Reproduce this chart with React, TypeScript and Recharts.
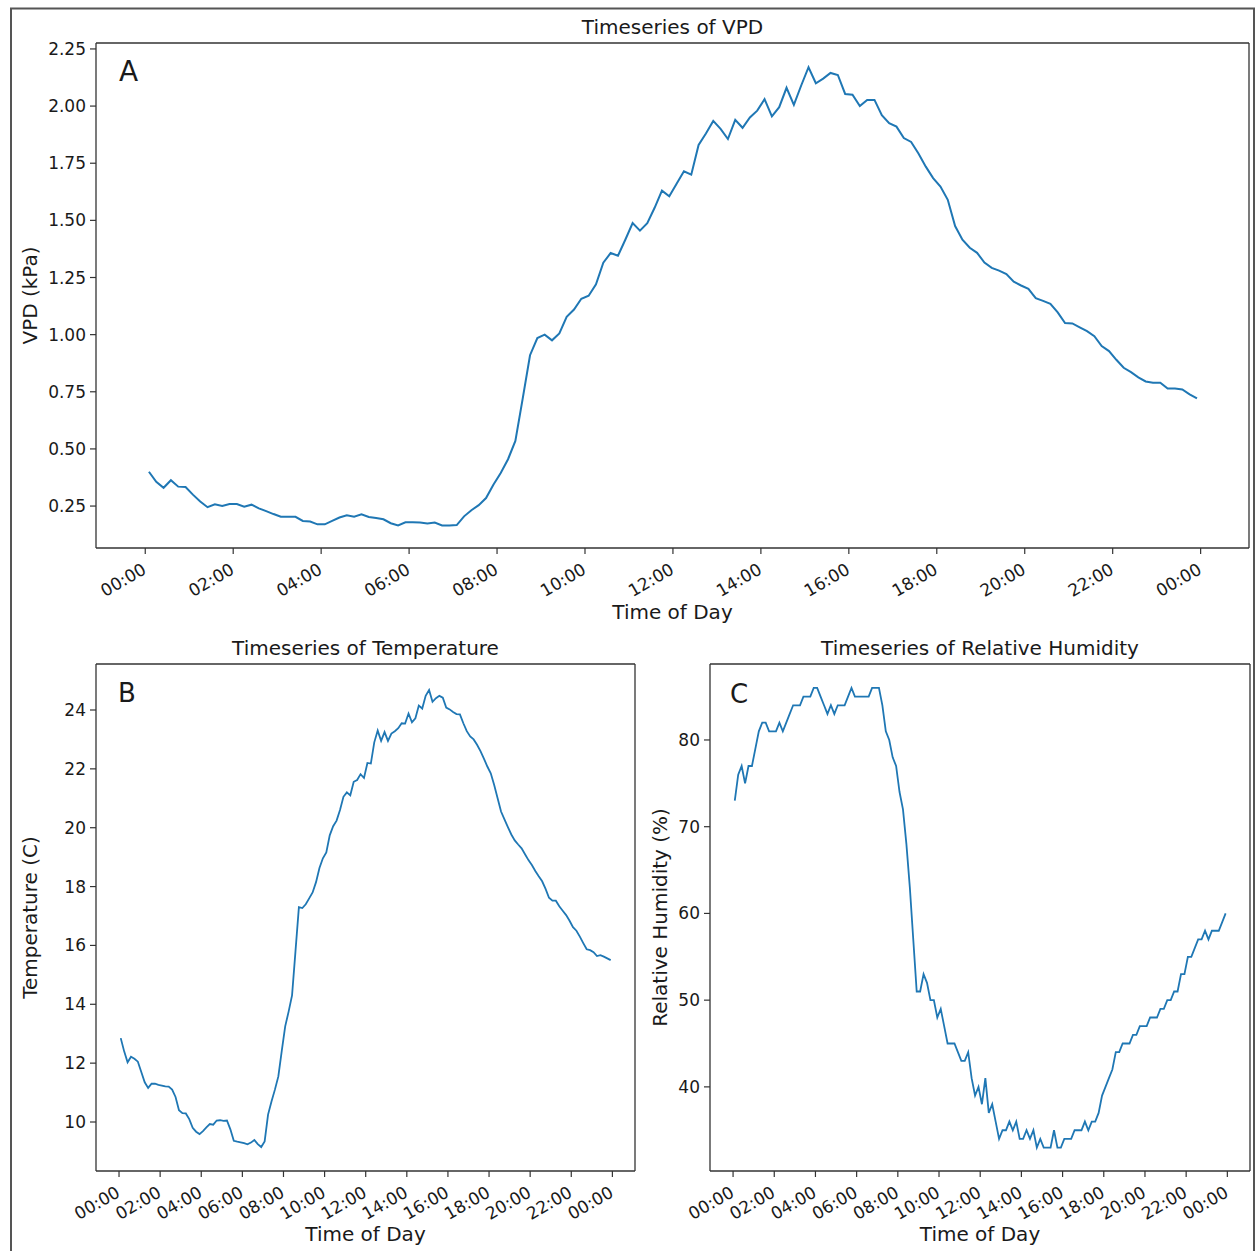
import { LineChart, Line, XAxis, YAxis, ReferenceLine } from 'recharts'

// logger samples: every 10 minutes starting at 00:05
const START_MIN = 5
const STEP_MIN = 10

const TICK_HOURS = [0, 2, 4, 6, 8, 10, 12, 14, 16, 18, 20, 22, 24]
const TICK_LABELS = ['00:00', '02:00', '04:00', '06:00', '08:00', '10:00', '12:00', '14:00', '16:00', '18:00', '20:00', '22:00', '00:00']

const VPD_TICKS = [0.25, 0.5, 0.75, 1.0, 1.25, 1.5, 1.75, 2.0, 2.25]
const TEMP_TICKS = [10, 12, 14, 16, 18, 20, 22, 24]
const RH_TICKS = [40, 50, 60, 70, 80]

const VPD = [
  0.40, 0.356, 0.33, 0.363, 0.335, 0.333, 0.30, 0.27, 0.245, 0.258, 0.25, 0.259,
  0.259, 0.247, 0.256, 0.24, 0.228, 0.215, 0.203, 0.203, 0.203, 0.185, 0.182, 0.17,
  0.17, 0.185, 0.20, 0.21, 0.203, 0.214, 0.202, 0.198, 0.192, 0.175, 0.165, 0.179,
  0.179, 0.178, 0.174, 0.178, 0.165, 0.165, 0.167, 0.205, 0.232, 0.254, 0.285, 0.343,
  0.395, 0.455, 0.535, 0.72, 0.91, 0.985, 1.0, 0.975, 1.005, 1.078, 1.11, 1.157,
  1.17, 1.22, 1.315, 1.357, 1.345, 1.415, 1.488, 1.455, 1.488, 1.555, 1.63, 1.605,
  1.66, 1.715, 1.70, 1.83, 1.88, 1.935, 1.90, 1.856, 1.94, 1.905, 1.95, 1.98,
  2.03, 1.955, 1.995, 2.08, 2.005, 2.09, 2.17, 2.10, 2.12, 2.145, 2.136, 2.053,
  2.05, 2.0, 2.027, 2.027, 1.96, 1.925, 1.91, 1.86, 1.843, 1.793, 1.735, 1.685,
  1.648, 1.59, 1.475, 1.415, 1.38, 1.358, 1.315, 1.292, 1.28, 1.265, 1.232, 1.215,
  1.20, 1.16, 1.148, 1.135, 1.097, 1.051, 1.049, 1.032, 1.015, 0.993, 0.95, 0.928,
  0.89, 0.855, 0.836, 0.813, 0.795, 0.79, 0.79, 0.764, 0.764, 0.76, 0.739, 0.721,
]

const TEMP = [
  12.85, 12.4, 12.03, 12.22, 12.15, 12.05, 11.7, 11.35, 11.16, 11.3, 11.3, 11.26,
  11.24, 11.21, 11.2, 11.1, 10.85, 10.4, 10.3, 10.29, 10.1, 9.8, 9.67, 9.59,
  9.69, 9.82, 9.93, 9.91, 10.05, 10.06, 10.04, 10.05, 9.75, 9.36, 9.33, 9.31,
  9.28, 9.24, 9.3, 9.39, 9.25, 9.15, 9.34, 10.25, 10.7, 11.1, 11.55, 12.42,
  13.25, 13.75, 14.3, 15.8, 17.3, 17.27, 17.4, 17.6, 17.8, 18.15, 18.63, 18.96,
  19.16, 19.74, 20.05, 20.24, 20.6, 21.05, 21.2, 21.1, 21.56, 21.62, 21.82, 21.69,
  22.2, 22.18, 22.9, 23.3, 22.95, 23.25, 22.95, 23.2, 23.28, 23.38, 23.55, 23.54,
  23.88, 23.58, 23.72, 24.15, 24.05, 24.48, 24.68, 24.28, 24.4, 24.48, 24.42, 24.08,
  24.02, 23.93, 23.86, 23.85, 23.55, 23.28, 23.1, 23.0, 22.82, 22.6, 22.35, 22.08,
  21.85, 21.45, 21.0, 20.55, 20.28, 20.02, 19.77, 19.57, 19.43, 19.3, 19.1, 18.9,
  18.73, 18.53, 18.35, 18.18, 17.92, 17.62, 17.52, 17.52, 17.33, 17.18, 17.03, 16.84,
  16.62, 16.5, 16.3, 16.08, 15.87, 15.84, 15.77, 15.64, 15.67, 15.62, 15.56, 15.5,
]

const RH = [
  73, 76, 77, 75, 77, 77, 79, 81, 82, 82, 81, 81,
  81, 82, 81, 82, 83, 84, 84, 84, 85, 85, 85, 86,
  86, 85, 84, 83, 84, 83, 84, 84, 84, 85, 86, 85,
  85, 85, 85, 85, 86, 86, 86, 84, 81, 80, 78, 77,
  74, 72, 68, 63, 57, 51, 51, 53, 52, 50, 50, 48,
  49, 47, 45, 45, 45, 44, 43, 43, 44, 41, 39, 40,
  38, 41, 37, 38, 36, 34, 35, 35, 36, 35, 36, 34,
  34, 35, 34, 35, 33, 34, 33, 33, 33, 35, 33, 33,
  34, 34, 34, 35, 35, 35, 36, 35, 36, 36, 37, 39,
  40, 41, 42, 44, 44, 45, 45, 45, 46, 46, 47, 47,
  47, 48, 48, 48, 49, 49, 50, 50, 51, 51, 53, 53,
  55, 55, 56, 57, 57, 58, 57, 58, 58, 58, 59, 60,
]

const toRows = (vals: number[]) =>
  vals.map((v, i) => ({ h: (START_MIN + i * STEP_MIN) / 60, v }))

const X_DOMAIN: [number, number] = [-1.12, 25.1]
const FONT = '"DejaVu Sans", Verdana, sans-serif'
const INK = '#1a1a1a'
const SPINE = '#333'
const BLUE = '#1f77b4'
const TICK_FS = 17

function TimeTick(props: any) {
  const { x, y, payload } = props
  const idx = TICK_HOURS.indexOf(payload.value)
  return (
    <g transform={`translate(${x - 4},${y + 6}) rotate(-30)`}>
      <text x={0} y={0} dy={TICK_FS * 0.73} textAnchor="end" fill={INK} fontSize={TICK_FS} fontFamily={FONT}>
        {TICK_LABELS[idx]}
      </text>
    </g>
  )
}

type PanelProps = {
  rows: { h: number; v: number }[]
  width: number
  height: number
  top: number
  right: number
  yWidth: number
  xHeight: number
  yDomain: [number, number]
  yTicks: number[]
  fmt: (v: number) => string
  lineWidth: number
}

function Panel({ rows, width, height, top, right, yWidth, xHeight, yDomain, yTicks, fmt, lineWidth }: PanelProps) {
  return (
    <LineChart width={width} height={height} data={rows} margin={{ top, right, bottom: 0, left: 0 }}>
      <XAxis
        type="number" dataKey="h" domain={X_DOMAIN} ticks={TICK_HOURS} interval={0}
        allowDataOverflow height={xHeight} tickSize={6} tickMargin={2}
        stroke={SPINE} axisLine={{ stroke: SPINE, strokeWidth: 1.3 }}
        tickLine={{ stroke: SPINE, strokeWidth: 1.2 }}
        tick={<TimeTick />}
      />
      <YAxis
        type="number" domain={yDomain} ticks={yTicks} interval={0} allowDataOverflow
        width={yWidth} tickSize={6} tickMargin={4} tickFormatter={fmt}
        stroke={SPINE} axisLine={{ stroke: SPINE, strokeWidth: 1.3 }}
        tickLine={{ stroke: SPINE, strokeWidth: 1.2 }}
        tick={{ fill: INK, fontSize: TICK_FS, fontFamily: FONT }}
      />
      <ReferenceLine y={yDomain[1]} stroke={SPINE} strokeWidth={1.3} ifOverflow="visible" />
      <ReferenceLine x={X_DOMAIN[1]} stroke={SPINE} strokeWidth={1.3} ifOverflow="visible" />
      <Line
        type="linear" dataKey="v" stroke={BLUE} strokeWidth={lineWidth}
        dot={false} activeDot={false} isAnimationActive={false}
      />
    </LineChart>
  )
}

export default function App() {
  const txt = { fill: INK, fontFamily: FONT }
  return (
    <div style={{ position: 'absolute', left: 0, top: 0, width: 1257, height: 1251, overflow: 'hidden', background: '#fff' }}>
      <div style={{ position: 'absolute', left: 0, top: 0 }}>
        <Panel
          rows={toRows(VPD)} width={1257} height={620} top={43} right={8}
          yWidth={96} xHeight={72} yDomain={[0.0665, 2.276]} yTicks={VPD_TICKS}
          fmt={(v) => v.toFixed(2)} lineWidth={2}
        />
      </div>
      <div style={{ position: 'absolute', left: 0, top: 620 }}>
        <Panel
          rows={toRows(TEMP)} width={640} height={631} top={44} right={5}
          yWidth={96} xHeight={80} yDomain={[8.335, 25.563]} yTicks={TEMP_TICKS}
          fmt={(v) => String(v)} lineWidth={1.8}
        />
      </div>
      <div style={{ position: 'absolute', left: 640, top: 620 }}>
        <Panel
          rows={toRows(RH)} width={617} height={631} top={44} right={7}
          yWidth={70} xHeight={80} yDomain={[30.3, 88.76]} yTicks={RH_TICKS}
          fmt={(v) => String(v)} lineWidth={1.8}
        />
      </div>
      <svg width={1257} height={1251} style={{ position: 'absolute', left: 0, top: 0, pointerEvents: 'none' }}>
        <rect x={11} y={8.5} width={1243} height={1300} fill="none" stroke="#555" strokeWidth={2} />

        <text x={672.5} y={34} textAnchor="middle" fontSize={20} {...txt}>Timeseries of VPD</text>
        <text x={672.5} y={619} textAnchor="middle" fontSize={20} {...txt}>Time of Day</text>
        <text transform="translate(37,295.5) rotate(-90)" textAnchor="middle" fontSize={20} {...txt}>VPD (kPa)</text>
        <text x={119} y={81} fontSize={28} {...txt}>A</text>

        <text x={365.5} y={655} textAnchor="middle" fontSize={20} {...txt}>Timeseries of Temperature</text>
        <text x={365.5} y={1241} textAnchor="middle" fontSize={20} {...txt}>Time of Day</text>
        <text transform="translate(37,917.5) rotate(-90)" textAnchor="middle" fontSize={20} {...txt}>Temperature (C)</text>
        <text x={118} y={702} fontSize={26} {...txt}>B</text>

        <text x={980} y={655} textAnchor="middle" fontSize={20} {...txt}>Timeseries of Relative Humidity</text>
        <text x={980} y={1241} textAnchor="middle" fontSize={20} {...txt}>Time of Day</text>
        <text transform="translate(667,917.5) rotate(-90)" textAnchor="middle" fontSize={20} {...txt}>Relative Humidity (%)</text>
        <text x={730} y={703} fontSize={26} {...txt}>C</text>
      </svg>
    </div>
  )
}
